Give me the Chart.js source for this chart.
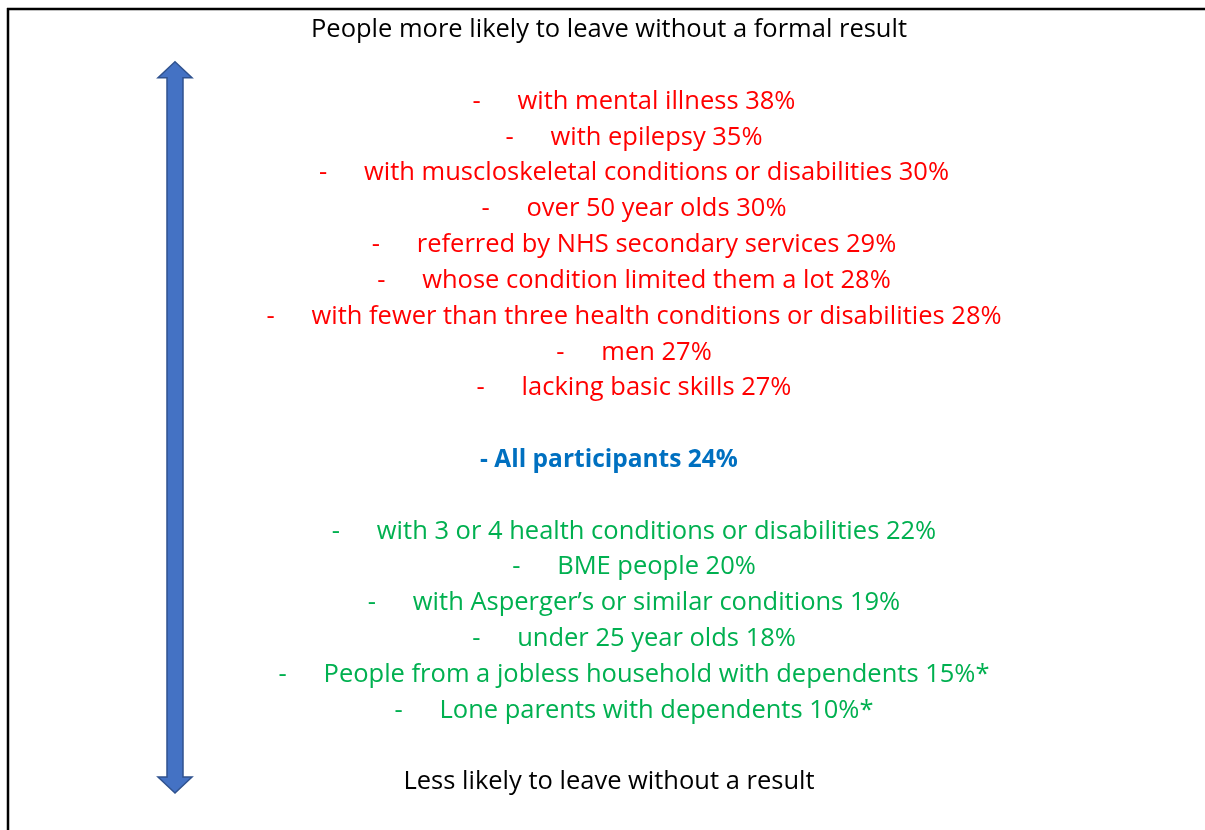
<!DOCTYPE html>
<html lang="en">
<head>
  <meta charset="UTF-8">
  <title>Leaving without a formal result</title>
  <script src="https://cdn.jsdelivr.net/npm/chart.js"></script>
  <style>
    body {
      margin: 0;
      background: #fff;
    }

    .chart-container {
      position: relative;
      width: 1205px;
      height: 830px;
    }
  </style>
</head>
<body>

<div class="chart-container">
  <canvas id="leaveChart"></canvas>
</div>

<script>
  const topLabel = "People more likely to leave without a formal result";
  const bottomLabel = "Less likely to leave without a result";

  const moreLikelyGroups = [
    "with mental illness",
    "with epilepsy",
    "with muscloskeletal conditions or disabilities",
    "over 50 year olds",
    "referred by NHS secondary services",
    "whose condition limited them a lot",
    "with fewer than three health conditions or disabilities",
    "men",
    "lacking basic skills"
  ];
  const moreLikelyValues = [38, 35, 30, 30, 29, 28, 28, 27, 27];

  const overallLabel = "All participants";
  const overallValue = 24;

  const lessLikelyGroups = [
    "with 3 or 4 health conditions or disabilities",
    "BME people",
    "with Asperger\u2019s or similar conditions",
    "under 25 year olds",
    "People from a jobless household with dependents",
    "Lone parents with dependents"
  ];
  const lessLikelyValues = [22, 20, 19, 18, 15, 10];
  const lessLikelyNotes = ["", "", "", "", "*", "*"];

  const RED = "#ff0000";
  const GREEN = "#00b050";
  const BLUE = "#0070c0";
  const FONT = "'Open Sans', Lato, sans-serif";
  const SIZE = 25.5;

  // one row per line of text, blank rows keep the spacing
  const rows = [];
  rows.push({ kind: "heading", text: topLabel, value: null });
  rows.push({ kind: "blank", text: "", value: null });
  moreLikelyGroups.forEach((g, i) => {
    rows.push({ kind: "item", text: g + " " + moreLikelyValues[i] + "%", value: moreLikelyValues[i], color: RED });
  });
  rows.push({ kind: "blank", text: "", value: null });
  rows.push({ kind: "overall", text: "- " + overallLabel + " " + overallValue + "%", value: overallValue });
  rows.push({ kind: "blank", text: "", value: null });
  lessLikelyGroups.forEach((g, i) => {
    rows.push({ kind: "item", text: g + " " + lessLikelyValues[i] + "%" + lessLikelyNotes[i], value: lessLikelyValues[i], color: GREEN });
  });
  rows.push({ kind: "blank", text: "", value: null });
  rows.push({ kind: "heading", text: bottomLabel, value: null });

  const textRows = {
    id: "textRows",
    afterDatasetsDraw(chart) {
      const ctx = chart.ctx;
      const y = chart.scales.y;
      ctx.save();

      // frame lines (top and left only are visible)
      ctx.strokeStyle = "#000";
      ctx.lineWidth = 2.5;
      ctx.beginPath();
      ctx.moveTo(7, 9);
      ctx.lineTo(1205, 9);
      ctx.moveTo(8, 8);
      ctx.lineTo(8, 830);
      ctx.stroke();

      // double headed arrow
      const ax = 175, shaft = 8, head = 17, headH = 16;
      const top = y.getPixelForValue(1) - 2;
      const bottom = y.getPixelForValue(rows.length - 1) + 13;
      ctx.beginPath();
      ctx.moveTo(ax, top);
      ctx.lineTo(ax + head, top + headH);
      ctx.lineTo(ax + shaft, top + headH);
      ctx.lineTo(ax + shaft, bottom - headH);
      ctx.lineTo(ax + head, bottom - headH);
      ctx.lineTo(ax, bottom);
      ctx.lineTo(ax - head, bottom - headH);
      ctx.lineTo(ax - shaft, bottom - headH);
      ctx.lineTo(ax - shaft, top + headH);
      ctx.lineTo(ax - head, top + headH);
      ctx.closePath();
      ctx.fillStyle = "#4472c4";
      ctx.fill();
      ctx.strokeStyle = "#2f528f";
      ctx.lineWidth = 1.5;
      ctx.stroke();

      ctx.textBaseline = "middle";
      rows.forEach((r, i) => {
        const py = y.getPixelForValue(i) + 2;
        if (r.kind === "heading") {
          ctx.font = SIZE + "px " + FONT;
          ctx.fillStyle = "#000";
          ctx.textAlign = "center";
          ctx.fillText(r.text, 609, py);
        } else if (r.kind === "overall") {
          ctx.font = "bold 24.5px " + FONT;
          ctx.fillStyle = BLUE;
          ctx.textAlign = "center";
          ctx.fillText(r.text, 609, py);
        } else if (r.kind === "item") {
          ctx.font = SIZE + "px " + FONT;
          ctx.fillStyle = r.color;
          ctx.textAlign = "left";
          const w = ctx.measureText(r.text).width;
          const dashGap = 45;
          const start = 634 - (w + dashGap) / 2;
          ctx.fillText("-", start, py);
          ctx.fillText(r.text, start + dashGap, py);
        }
      });
      ctx.restore();
    }
  };

  new Chart(document.getElementById("leaveChart"), {
    type: "bar",
    data: {
      labels: rows.map(r => r.text),
      datasets: [{
        data: rows.map(r => r.value),
        backgroundColor: "rgba(0,0,0,0)"
      }]
    },
    options: {
      indexAxis: "y",
      responsive: true,
      maintainAspectRatio: false,
      animation: false,
      layout: { padding: { top: 10, bottom: 32, left: 0, right: 0 } },
      scales: {
        x: { display: false, min: 0, max: 100 },
        y: { display: false }
      },
      plugins: {
        legend: { display: false },
        tooltip: { enabled: false }
      }
    },
    plugins: [textRows]
  });
</script>
</body>
</html>
